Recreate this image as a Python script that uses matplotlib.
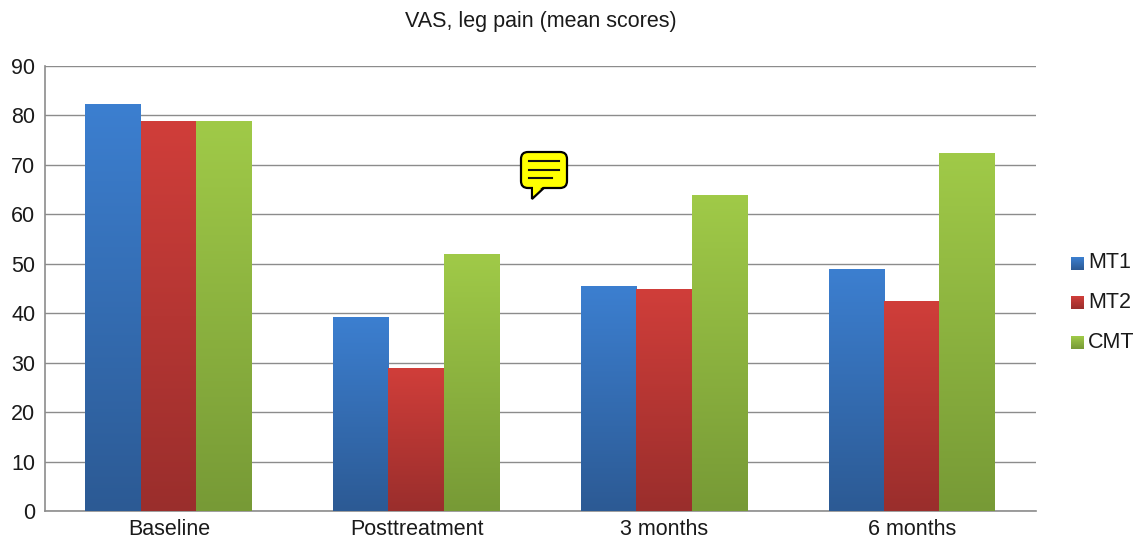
import numpy as np
import matplotlib
matplotlib.use('Agg')
import matplotlib.pyplot as plt
from matplotlib.colors import LinearSegmentedColormap
from matplotlib.patches import FancyBboxPatch, Polygon

plt.rcParams['font.family'] = ['Liberation Sans', 'DejaVu Sans']

# data
categories = ['Baseline', 'Posttreatment', '3 months', '6 months']
mt1 = [82.3, 39.2, 45.5, 48.9]
mt2 = [78.8, 28.9, 44.8, 42.4]
cmt = [78.8, 51.9, 63.9, 72.4]
series_names = ['MT1', 'MT2', 'CMT']
yticks = [0, 10, 20, 30, 40, 50, 60, 70, 80, 90]

W, H = 1134, 539
fig = plt.figure(figsize=(W/100, H/100), dpi=100)
ax = fig.add_axes([45/W, 1-511/H, (1036-45)/W, (511-66)/H])

# bottom colour, top colour of each series
colors = [('#2c5a94', '#3c7fd0'), ('#9a2e2c', '#d03e3a'), ('#779a36', '#a0ca48')]
bar_w = 0.2235
all_series = [mt1, mt2, cmt]

for i, vals in enumerate(all_series):
    cmap = LinearSegmentedColormap.from_list('g', colors[i])
    grad = np.linspace(1, 0, 256).reshape(-1, 1)
    for j, v in enumerate(vals):
        x0 = j + 0.498 + (i-1.5)*bar_w
        # gradient spans the full bar height
        ax.imshow(grad, cmap=cmap, vmin=0, vmax=1, aspect='auto', zorder=3,
                  extent=(x0, x0+bar_w, 0, v), interpolation='bilinear')

ax.set_xlim(0, 4)
ax.set_ylim(0, 90)
ax.set_yticks(yticks)
ax.set_xticks([0.5, 1.5, 2.5, 3.5])
ax.set_xticklabels(categories)
ax.tick_params(axis='both', length=0, labelsize=15.5, colors='#1a1a1a')
ax.tick_params(axis='y', pad=7)
ax.tick_params(axis='x', pad=5.5)
ax.grid(axis='y', color='#8c8c8c', lw=1.0, zorder=1)
ax.set_axisbelow(True)
for s in ['top', 'right']:
    ax.spines[s].set_visible(False)
for s in ['left', 'bottom']:
    ax.spines[s].set_color('#8c8c8c')
    ax.spines[s].set_linewidth(1.2)

fig.text(541/W, 1-22/H, 'VAS, leg pain (mean scores)', ha='center', va='center',
         fontsize=15.5, color='#1a1a1a')

# legend by hand, with gradient swatches
ys = [264, 303, 343]
for i, name in enumerate(series_names):
    cmap = LinearSegmentedColormap.from_list('g', colors[i])
    sw = fig.add_axes([1071/W, 1-(ys[i]+6)/H, 13/W, 13/H])
    sw.imshow(np.linspace(1, 0, 32).reshape(-1, 1), cmap=cmap, vmin=0, vmax=1, aspect='auto')
    sw.axis('off')
    fig.text(1088/W, 1-(ys[i]-1)/H, name, ha='left', va='center', fontsize=15.5, color='#1a1a1a')

# yellow note icon
ov = fig.add_axes([0, 0, 1, 1], facecolor='none')
ov.set_xlim(0, W)
ov.set_ylim(H, 0)
ov.axis('off')
ov.add_patch(Polygon([(532, 186), (532, 199), (546, 186)], fc='#ffff00', ec='black', lw=1.6))
ov.add_patch(FancyBboxPatch((526, 157), 36, 26, boxstyle='round,pad=5,rounding_size=7',
                            fc='#ffff00', ec='black', lw=1.6))
ov.add_patch(Polygon([(533, 185), (533, 195), (545, 185)], fc='#ffff00', ec='none'))
for yy, x1 in zip([161, 170, 178], [559, 559, 552]):
    ov.plot([529, x1], [yy, yy], color='#111111', lw=1.5)

fig.savefig('out.png', dpi=100)
